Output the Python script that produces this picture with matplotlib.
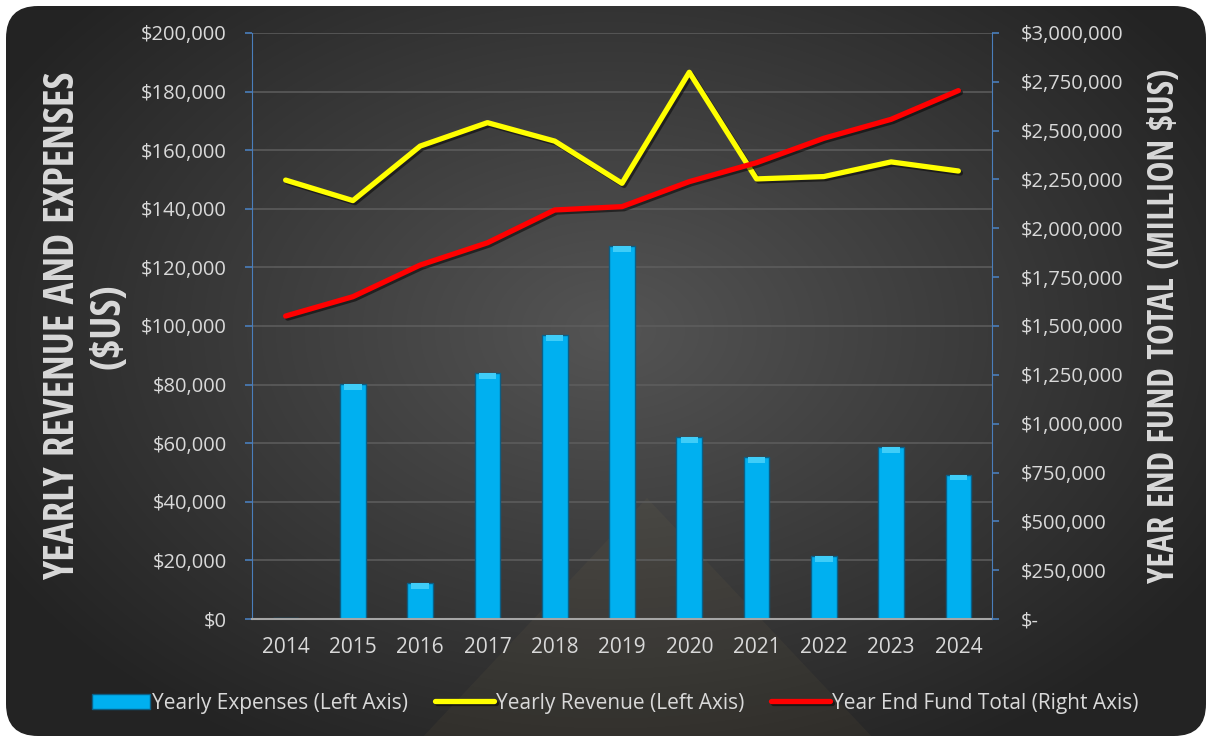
import matplotlib
matplotlib.use("Agg")
import matplotlib.pyplot as plt
import matplotlib.font_manager as fm
import matplotlib.patheffects as pe
from matplotlib.patches import FancyBboxPatch, Polygon
from matplotlib.ticker import FuncFormatter, MultipleLocator
import numpy as np

years = ["2014", "2015", "2016", "2017", "2018", "2019", "2020", "2021", "2022", "2023", "2024"]
expenses = [400, 80100, 12400, 83900, 96800, 127300, 62100, 55300, 21600, 58800, 49300]
revenue = [149800, 142800, 161400, 169400, 163100, 148700, 186600, 150200, 151000, 156000, 152900]
fund_total = [1551000, 1650000, 1812000, 1926000, 2094000, 2111000, 2239000, 2336000, 2461000, 2558000, 2705000]

names = {f.name for f in fm.fontManager.ttflist}
label_font = "DejaVu Sans"
for cand in ["Open Sans Condensed", "Fira Sans Condensed", "Encode Sans Condensed", "Asap Condensed",
             "Archivo Narrow", "Barlow Semi Condensed", "Liberation Sans Narrow"]:
    if cand in names:
        label_font = cand
        break
tick_font = "Open Sans"

W, H = 1212, 740
fig = plt.figure(figsize=(W / 100, H / 100), dpi=100)
fig.patch.set_facecolor("white")

# background rounded panel with radial gradient
bg = fig.add_axes([0, 0, 1, 1], zorder=-10)
bg.set_xlim(0, W)
bg.set_ylim(H, 0)
bg.axis("off")
yy, xx = np.mgrid[0:H, 0:W]
r = np.sqrt(((xx - 610) / 700.0) ** 2 + ((yy - 330) / 480.0) ** 2)
val = np.clip(0.33 - 0.19 * r, 0.14, 0.33)
img = np.dstack([val, val, val])
im = bg.imshow(img, extent=(0, W, H, 0), interpolation="bilinear")
panel = FancyBboxPatch((6, 6), W - 12, H - 10, boxstyle="round,pad=0,rounding_size=32",
                       transform=bg.transData, facecolor="none", edgecolor="none")
bg.add_patch(panel)
im.set_clip_path(panel)
tri = Polygon([(647, 498), (420, 740), (875, 740)], closed=True, facecolor="#b59a5a",
              alpha=0.06, edgecolor="none", transform=bg.transData)
bg.add_patch(tri)
tri.set_clip_path(panel)

ax = fig.add_axes([252 / W, (H - 619) / H, 740 / W, 586 / H])
ax.patch.set_alpha(0)
x = np.arange(len(years))

ax.set_axisbelow(True)
ax.yaxis.grid(True, color="#5e5e5e", linewidth=1.1)
bars = ax.bar(x, expenses, width=0.38, color="#00b0f0", edgecolor="#0b5f86", linewidth=1.0,
              label="Yearly Expenses (Left Axis)", zorder=2)
cap = [2000 if v > 3000 else 0 for v in expenses]
ax.bar(x, cap, bottom=[v - c for v, c in zip(expenses, cap)], width=0.26, color="#3fcdf8",
       edgecolor="none", zorder=3)
shadow = [pe.SimpleLineShadow(offset=(1.5, -1.5), shadow_color="black", alpha=0.5), pe.Normal()]
ln_rev, = ax.plot(x, revenue, color="#ffff00", linewidth=3.8, solid_capstyle="round",
                  label="Yearly Revenue (Left Axis)", zorder=5, path_effects=shadow)
ax.set_xlim(-0.5, len(years) - 0.5)
ax.set_ylim(0, 200000)
ax.yaxis.set_major_locator(MultipleLocator(20000))
ax.yaxis.set_major_formatter(FuncFormatter(lambda v, p: "${:,.0f}".format(v)))
ax.set_xticks(x)
ax.set_xticklabels(years)

ax2 = ax.twinx()
ln_fund, = ax2.plot(x, fund_total, color="#ff0000", linewidth=3.8, solid_capstyle="round",
                    label="Year End Fund Total (Right Axis)", zorder=6, path_effects=shadow)
ax2.set_ylim(0, 3000000)
ax2.yaxis.set_major_locator(MultipleLocator(250000))
ax2.yaxis.set_major_formatter(FuncFormatter(lambda v, p: "$-" if v == 0 else "${:,.0f}".format(v)))

blue = "#4a7ebb"
for a in (ax, ax2):
    a.spines["top"].set_visible(False)
    a.spines["left"].set_color(blue)
    a.spines["right"].set_color(blue)
    a.spines["bottom"].set_color("#a6a6a6")
    a.spines["bottom"].set_linewidth(1.5)
ax.spines["right"].set_visible(False)
ax2.spines["left"].set_visible(False)
ax2.spines["bottom"].set_visible(False)

ax.tick_params(axis="y", colors=blue, length=5, width=1.2, pad=13, labelcolor="#d9d9d9", labelsize=14.5)
ax2.tick_params(axis="y", colors=blue, length=5, width=1.2, pad=16, labelcolor="#d9d9d9", labelsize=14.5)
ax.tick_params(axis="x", length=0, pad=13, labelcolor="#d9d9d9", labelsize=15)
for lab in ax.get_yticklabels() + ax.get_xticklabels() + ax2.get_yticklabels():
    lab.set_fontfamily(tick_font)

fig.text(86 / W, (H - 326) / H, "YEARLY REVENUE AND EXPENSES\n($US)", rotation=90,
         ha="center", va="center", color="#d9d9d9", fontsize=29.5, fontweight="bold",
         family=label_font, linespacing=1.15, multialignment="center")
fig.text(1165 / W, (H - 326) / H, "YEAR END FUND TOTAL (MILLION $US)", rotation=90,
         ha="center", va="center", color="#d9d9d9", fontsize=25, fontweight="bold",
         family=label_font)

leg = fig.legend([bars, ln_rev, ln_fund],
                 ["Yearly Expenses (Left Axis)", "Yearly Revenue (Left Axis)", "Year End Fund Total (Right Axis)"],
                 loc="center", bbox_to_anchor=(615 / W, (H - 703) / H), ncol=3, frameon=False,
                 prop={"family": tick_font, "size": 15}, handlelength=2.8, handletextpad=0.1,
                 columnspacing=1.3, labelcolor="#d9d9d9")

fig.savefig("out.png", dpi=100, facecolor="white")
